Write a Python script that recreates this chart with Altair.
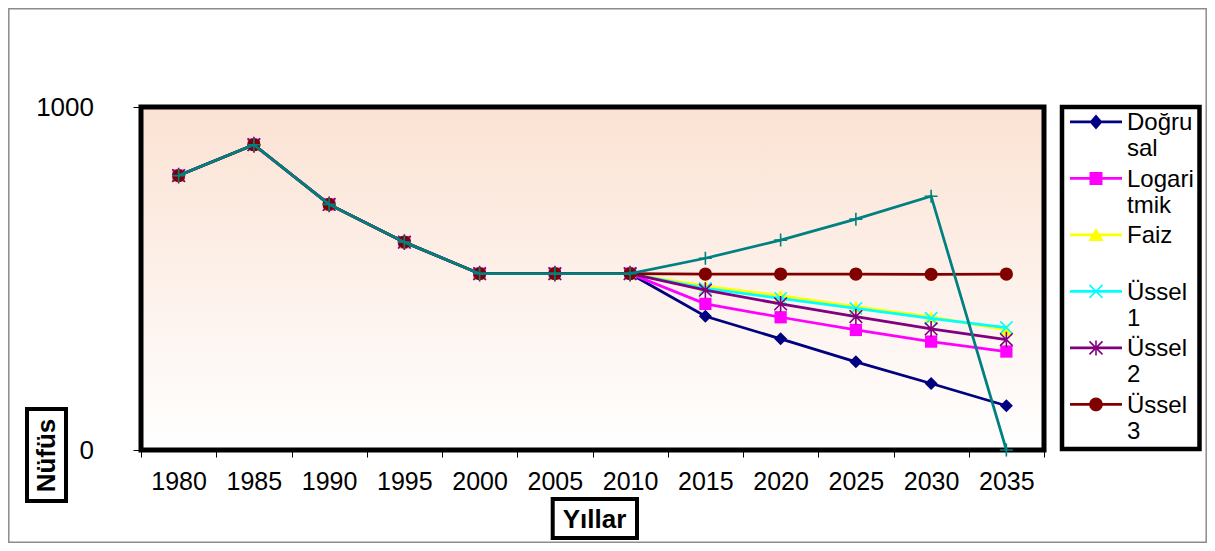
import altair as alt
import pandas as pd

years = ["1980", "1985", "1990", "1995", "2000", "2005", "2010",
         "2015", "2020", "2025", "2030", "2035"]
common = [800, 890, 716, 606, 514, 514, 514]
dogrusal = common + [390, 324, 257, 194, 129]
logaritmik = common + [426, 387, 350, 316, 287]
faiz = common + [478, 450, 418, 388, 350]
ussel1 = common + [471, 442, 413, 384, 357]
ussel2 = common + [466, 426, 389, 353, 322]
ussel3 = common + [513, 513, 513, 512, 513]
ussel4 = common + [559, 612, 673, 740, 0]

series_names = ["Doğrusal", "Logaritmik", "Faiz", "Üssel 1", "Üssel 2", "Üssel 3", "Üssel 4"]
series_values = [dogrusal, logaritmik, faiz, ussel1, ussel2, ussel3, ussel4]
legend_names = series_names[:6]
legend_lines = [["Doğru", "sal"], ["Logari", "tmik"], ["Faiz", ""],
                ["Üssel", "1"], ["Üssel", "2"], ["Üssel", "3"]]
colors = ["#000080", "#FF00FF", "#FFFF00", "#00FFFF", "#800080", "#800000", "#008080"]

FONT = "Liberation Sans"
W, H = 903, 343

rows = []
for name, vals in zip(series_names, series_values):
    for y, v in zip(years, vals):
        rows.append({"year": y, "value": v, "series": name})
df = pd.DataFrame(rows)

# ---- legend symbol paths (line + marker), all filled polygons ----
SYM = 30.0           # symbol box side in px
R = SYM / 2          # px per path unit
HALF_LINE = 26.0 / R  # legend line half-length in units
yo = -1.4 / R


def u(px):
    return px / R


def poly(pts):
    s = sum(pts[i][0] * pts[(i + 1) % len(pts)][1] - pts[(i + 1) % len(pts)][0] * pts[i][1]
            for i in range(len(pts)))
    if s < 0:
        pts = pts[::-1]
    return "M" + "L".join(f"{round(x, 3)},{round(y, 3)}" for x, y in pts) + "Z"


def bar(x1, y1, x2, y2, half):
    dx, dy = x2 - x1, y2 - y1
    ln = (dx * dx + dy * dy) ** 0.5
    nx, ny = -dy / ln * half, dx / ln * half
    return poly([(x1 + nx, y1 + ny), (x2 + nx, y2 + ny), (x2 - nx, y2 - ny), (x1 - nx, y1 - ny)])


line_p = bar(-HALF_LINE, yo, HALF_LINE, yo, u(1.3))
diamond_p = line_p + poly([(0, yo - u(7.5)), (u(6.5), yo), (0, yo + u(7.5)), (-u(6.5), yo)])
sq = u(6.5)
square_p = line_p + poly([(-sq, yo - sq), (sq, yo - sq), (sq, yo + sq), (-sq, yo + sq)])
tri_p = line_p + poly([(0, yo - u(7)), (u(7.5), yo + u(6)), (-u(7.5), yo + u(6))])
b = u(6.5)
t = u(0.8)
x_p = line_p + bar(-b, yo - b, b, yo + b, t) + bar(-b, yo + b, b, yo - b, t)
star_p = x_p + bar(0, yo - u(7.5), 0, yo + u(7.5), t)
c = round(u(6.8), 3)
yr = round(yo, 3)
circ_p = line_p + f"M{c},{yr}A{c},{c} 0 1,1 -{c},{yr}A{c},{c} 0 1,1 {c},{yr}Z"
legend_paths = [diamond_p, square_p, tri_p, x_p, star_p, circ_p]

label_expr = "".join(f"datum.label === '{n}' ? ['{l[0]}', '{l[1]}'] : "
                     for n, l in zip(legend_names, legend_lines)) + "datum.label"

legend = alt.Legend(
    title=None, orient="none", legendX=940, legendY=1.3,
    padding=0, symbolSize=SYM * SYM, symbolStrokeWidth=0, symbolOpacity=1, rowPadding=3.5,
    labelExpr=label_expr, labelFont=FONT, labelFontSize=24, labelColor="black",
    labelLimit=400, labelOffset=16,
)

x_enc = alt.X(
    "year:O", sort=years, bandPosition=0.5,
    scale=alt.Scale(type="band", domain=years, paddingInner=0, paddingOuter=0),
    axis=alt.Axis(
        title="Yıllar", titleX=453, titleY=69, titleAlign="center", titleBaseline="middle",
        titleFont=FONT, titleFontSize=26, titleFontWeight="bold", titleColor="black",
        labelAngle=0, labelFont=FONT, labelFontSize=25, labelColor="black", labelPadding=12,
        tickSize=7, tickBand="extent", tickColor="black", tickWidth=1,
        domain=False, grid=False,
    ),
)
y_enc = alt.Y(
    "value:Q",
    scale=alt.Scale(domain=[0, 1000], nice=False, zero=True),
    axis=alt.Axis(
        values=[0, 1000], format="d", title="Nüfüs", titleAngle=270, titleX=-94.5, titleY=348,
        titleAlign="center", titleBaseline="middle", titleFont=FONT, titleFontSize=26,
        titleFontWeight="bold", titleColor="black",
        labelFont=FONT, labelFontSize=26, labelColor="black", labelPadding=39.5,
        tickSize=8, tickColor="black", tickWidth=1, domain=False, grid=False,
    ),
)

one = pd.DataFrame({"d": [0]})
legend_df = pd.DataFrame({"series": legend_names})

gradient = alt.Gradient(
    gradient="linear",
    stops=[alt.GradientStop(color="#FBE2D3", offset=0),
           alt.GradientStop(color="#FDF2EC", offset=0.55),
           alt.GradientStop(color="#FFFFFF", offset=1)],
    x1=0, x2=0, y1=0, y2=1,
)
bg = alt.Chart(one).mark_rect(fill=gradient, stroke="black", strokeWidth=5).encode(
    x=alt.value(0), x2=alt.value(W), y=alt.value(0), y2=alt.value(H))
legend_box = alt.Chart(one).mark_rect(fillOpacity=0, stroke="black", strokeWidth=4.5).encode(
    x=alt.value(921), x2=alt.value(1058.5), y=alt.value(0), y2=alt.value(342))
xtitle_box = alt.Chart(one).mark_rect(fillOpacity=0, stroke="black", strokeWidth=4).encode(
    x=alt.value(411.7), x2=alt.value(496), y=alt.value(392), y2=alt.value(431))
ytitle_box = alt.Chart(one).mark_rect(fillOpacity=0, stroke="black", strokeWidth=4).encode(
    x=alt.value(-114), x2=alt.value(-75), y=alt.value(302), y2=alt.value(394))
frame = alt.Chart(one).mark_rect(fillOpacity=0, stroke="#8c8c8c", strokeWidth=1.5).encode(
    x=alt.value(-132.2), x2=alt.value(1065.2), y=alt.value(-98.2), y2=alt.value(435.2))

legend_layer = alt.Chart(legend_df).mark_point(filled=True, opacity=0).encode(
    x=alt.value(0), y=alt.value(0),
    fill=alt.Fill("series:N", scale=alt.Scale(domain=legend_names, range=colors[:6]), legend=legend),
    shape=alt.Shape("series:N", scale=alt.Scale(domain=legend_names, range=legend_paths), legend=legend),
)

markers = {
    "Doğrusal": dict(shape="diamond", size=169, filled=True),
    "Logaritmik": dict(shape="square", size=150, filled=True),
    "Faiz": dict(shape="triangle-up", size=180, filled=True),
    "Üssel 1": dict(shape="M-1,-1L1,1M-1,1L1,-1", size=150, filled=False, strokeWidth=1.6),
    "Üssel 2": dict(shape="M-1,-1L1,1M-1,1L1,-1M0,-1.25L0,1.25", size=160, filled=False, strokeWidth=1.6),
    "Üssel 3": dict(shape="circle", size=175, filled=True),
    "Üssel 4": dict(shape="M-1,0L1,0M0,-1L0,1", size=169, filled=False, strokeWidth=1.6),
}

layers = [bg, legend_box, xtitle_box, ytitle_box, frame, legend_layer]
for name, col in zip(series_names, colors):
    sub = df[df["series"] == name]
    line = alt.Chart(sub).mark_line(strokeWidth=2.75, color=col).encode(x=x_enc, y=y_enc)
    pts = alt.Chart(sub).mark_point(opacity=1, color=col, **markers[name]).encode(x=x_enc, y=y_enc)
    layers += [line, pts]

chart = alt.layer(*layers).properties(
    width=W, height=H,
    padding={"left": 133, "top": 99, "right": 163, "bottom": 93},
    autosize=alt.AutoSizeParams(type="none"),
    background="white",
).configure_view(stroke=None)

chart.save("out.html", embed_options={"renderer": "svg", "actions": False})
